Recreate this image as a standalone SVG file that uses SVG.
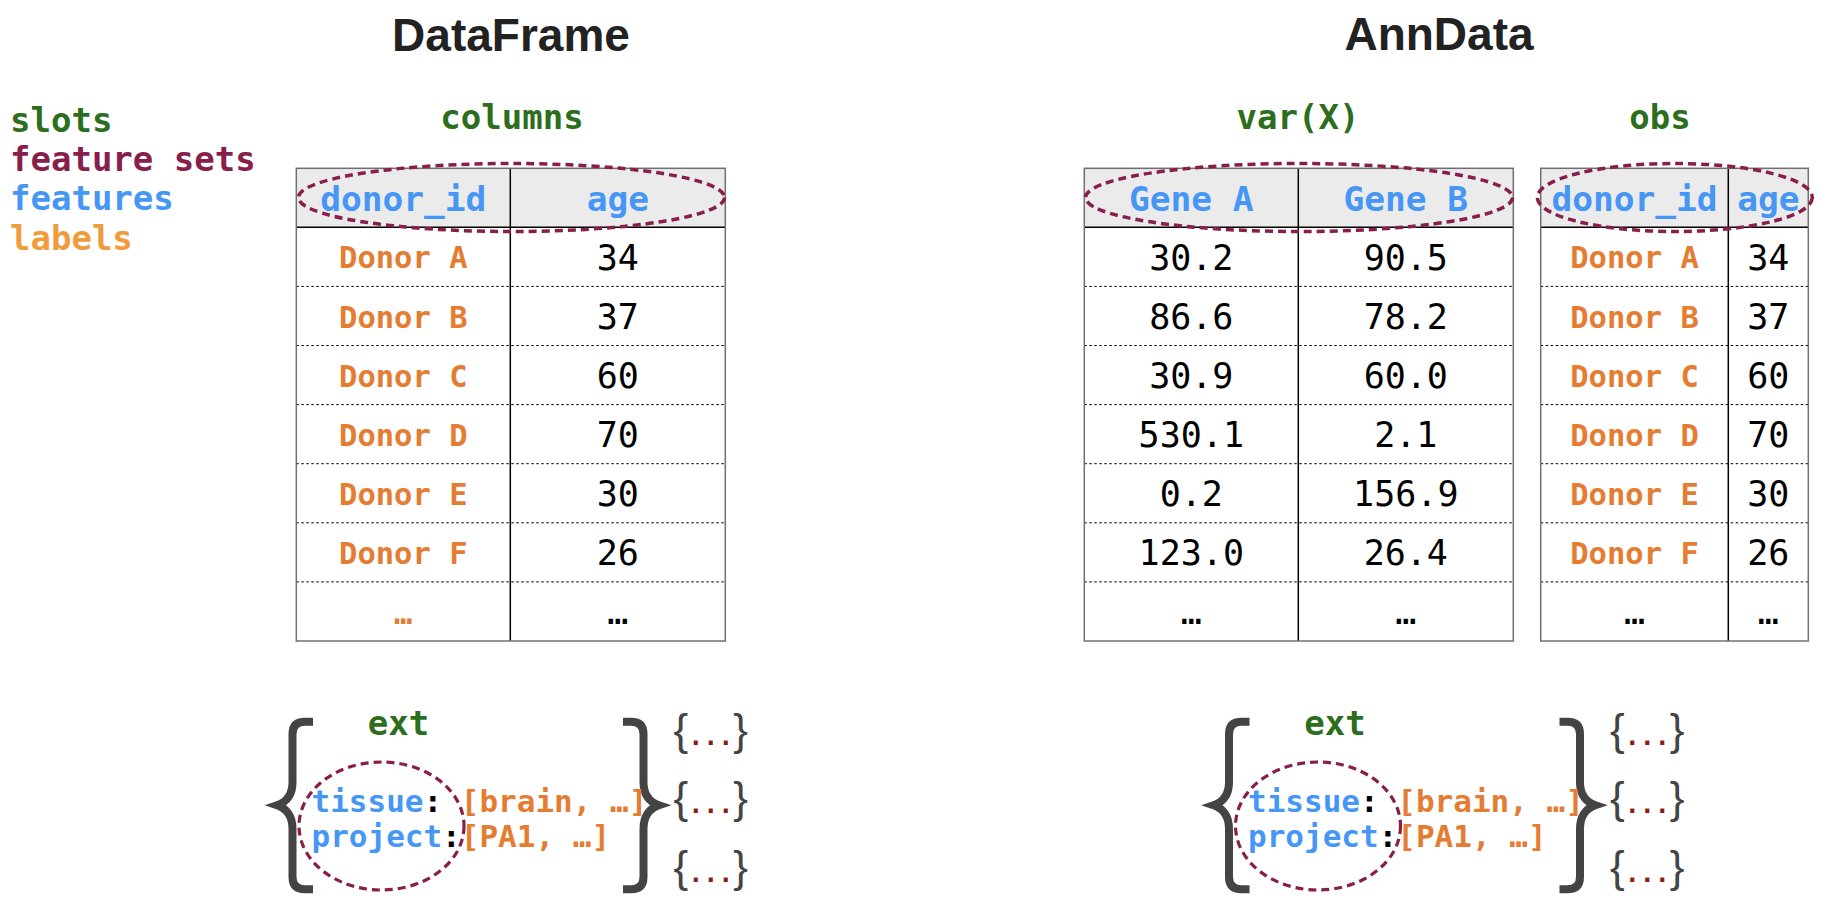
<svg xmlns="http://www.w3.org/2000/svg" width="1826" height="916" viewBox="0 0 1826 916">
<style>
.mono{font-family:"DejaVu Sans Mono","Liberation Mono",monospace}
.b{font-weight:bold}
.title{font-family:"Liberation Sans",Arial,sans-serif;font-weight:bold;font-size:46px;fill:#222;text-anchor:middle}
.slot{font-family:"DejaVu Sans Mono","Liberation Mono",monospace;font-weight:bold;font-size:34px;fill:#2d6e1e}
.fs{fill:#871e4b}
.feat{fill:#4696f5}
.lab{fill:#f09b3c}
.hdr{font-family:"DejaVu Sans Mono","Liberation Mono",monospace;font-weight:bold;font-size:34.5px;fill:#4696f5;text-anchor:middle}
.don{font-family:"DejaVu Sans Mono","Liberation Mono",monospace;font-weight:bold;font-size:30.5px;fill:#e47d32;text-anchor:middle}
.num{font-family:"DejaVu Sans Mono","Liberation Mono",monospace;font-size:35px;fill:#000;text-anchor:middle}
.hfill{fill:#ebebeb;stroke:none}
.border{fill:none;stroke:#707070;stroke-width:1.5}
.solid{stroke:#000;stroke-width:1.5}
.dot{stroke:#000;stroke-width:1;stroke-dasharray:2.5 2.5}
.fset{fill:none;stroke:#871e4b;stroke-width:3.5;stroke-dasharray:8 5}
.brace{fill:none;stroke:#444;stroke-width:8;stroke-linejoin:miter}
.ext{font-family:"DejaVu Sans Mono","Liberation Mono",monospace;font-weight:bold;font-size:31px}
.org{fill:#e47d32}
.blk{fill:#000}
.sb{font-family:"Liberation Sans",Arial,sans-serif;font-size:44px;fill:#444}
.sd{font-family:"DejaVu Sans Mono","Liberation Mono",monospace;font-weight:bold;font-size:25px;fill:#8b1e14}
</style>

<g id="legend">
  <text class="slot" x="10" y="131.5">slots</text>
  <text class="slot fs" x="10" y="170.5">feature sets</text>
  <text class="slot feat" x="10" y="210">features</text>
  <text class="slot lab" x="10" y="249.5">labels</text>
</g>

<g id="title-dataframe">
  <text class="title" x="511" y="51">DataFrame</text>
</g>
<g id="title-anndata">
  <text class="title" x="1439" y="50">AnnData</text>
</g>

<g id="df-table">
  <text class="slot" x="512" y="129" text-anchor="middle">columns</text>
  <rect class="hfill" x="296.3" y="168.3" width="429" height="59"/>
  <line class="dot" x1="296.3" y1="286.4" x2="725.3" y2="286.4"/>
  <line class="dot" x1="296.3" y1="345.5" x2="725.3" y2="345.5"/>
  <line class="dot" x1="296.3" y1="404.6" x2="725.3" y2="404.6"/>
  <line class="dot" x1="296.3" y1="463.7" x2="725.3" y2="463.7"/>
  <line class="dot" x1="296.3" y1="522.8" x2="725.3" y2="522.8"/>
  <line class="dot" x1="296.3" y1="581.9" x2="725.3" y2="581.9"/>
  <line class="solid" x1="296.3" y1="227.3" x2="725.3" y2="227.3"/>
  <line class="solid" x1="510.3" y1="168.3" x2="510.3" y2="641"/>
  <rect class="border" x="296.3" y="168.3" width="429" height="472.7"/>
  <text class="hdr" x="403.3" y="210.5">donor_id</text>
  <text class="hdr" x="617.8" y="210.5">age</text>
  <text class="don" x="403.3" y="268.4">Donor A</text>
  <text class="don" x="403.3" y="327.5">Donor B</text>
  <text class="don" x="403.3" y="386.6">Donor C</text>
  <text class="don" x="403.3" y="445.7">Donor D</text>
  <text class="don" x="403.3" y="504.8">Donor E</text>
  <text class="don" x="403.3" y="563.9">Donor F</text>
  <text class="don" x="403.3" y="623.5">…</text>
  <text class="num" x="617.8" y="269.9">34</text>
  <text class="num" x="617.8" y="329">37</text>
  <text class="num" x="617.8" y="388">60</text>
  <text class="num" x="617.8" y="447">70</text>
  <text class="num" x="617.8" y="506">30</text>
  <text class="num" x="617.8" y="565">26</text>
  <text class="num" x="617.8" y="624">…</text>
  <ellipse class="fset" cx="511.5" cy="197.5" rx="213" ry="34"/>
</g>

<g id="var-table">
  <text class="slot" x="1298" y="129" text-anchor="middle">var(X)</text>
  <rect class="hfill" x="1084.3" y="168.3" width="429" height="59"/>
  <line class="dot" x1="1084.3" y1="286.4" x2="1513.3" y2="286.4"/>
  <line class="dot" x1="1084.3" y1="345.5" x2="1513.3" y2="345.5"/>
  <line class="dot" x1="1084.3" y1="404.6" x2="1513.3" y2="404.6"/>
  <line class="dot" x1="1084.3" y1="463.7" x2="1513.3" y2="463.7"/>
  <line class="dot" x1="1084.3" y1="522.8" x2="1513.3" y2="522.8"/>
  <line class="dot" x1="1084.3" y1="581.9" x2="1513.3" y2="581.9"/>
  <line class="solid" x1="1084.3" y1="227.3" x2="1513.3" y2="227.3"/>
  <line class="solid" x1="1298.3" y1="168.3" x2="1298.3" y2="641"/>
  <rect class="border" x="1084.3" y="168.3" width="429" height="472.7"/>
  <text class="hdr" x="1191.3" y="210.5">Gene A</text>
  <text class="hdr" x="1405.8" y="210.5">Gene B</text>
  <text class="num" x="1191.3" y="269.9">30.2</text>
  <text class="num" x="1191.3" y="329">86.6</text>
  <text class="num" x="1191.3" y="388">30.9</text>
  <text class="num" x="1191.3" y="447">530.1</text>
  <text class="num" x="1191.3" y="506">0.2</text>
  <text class="num" x="1191.3" y="565">123.0</text>
  <text class="num" x="1191.3" y="624">…</text>
  <text class="num" x="1405.8" y="269.9">90.5</text>
  <text class="num" x="1405.8" y="329">78.2</text>
  <text class="num" x="1405.8" y="388">60.0</text>
  <text class="num" x="1405.8" y="447">2.1</text>
  <text class="num" x="1405.8" y="506">156.9</text>
  <text class="num" x="1405.8" y="565">26.4</text>
  <text class="num" x="1405.8" y="624">…</text>
  <ellipse class="fset" cx="1299" cy="197.5" rx="213.5" ry="34"/>
</g>

<g id="obs-table">
  <text class="slot" x="1660" y="129" text-anchor="middle">obs</text>
  <rect class="hfill" x="1540.7" y="168.3" width="267.6" height="59"/>
  <line class="dot" x1="1540.7" y1="286.4" x2="1808.3" y2="286.4"/>
  <line class="dot" x1="1540.7" y1="345.5" x2="1808.3" y2="345.5"/>
  <line class="dot" x1="1540.7" y1="404.6" x2="1808.3" y2="404.6"/>
  <line class="dot" x1="1540.7" y1="463.7" x2="1808.3" y2="463.7"/>
  <line class="dot" x1="1540.7" y1="522.8" x2="1808.3" y2="522.8"/>
  <line class="dot" x1="1540.7" y1="581.9" x2="1808.3" y2="581.9"/>
  <line class="solid" x1="1540.7" y1="227.3" x2="1808.3" y2="227.3"/>
  <line class="solid" x1="1728.3" y1="168.3" x2="1728.3" y2="641"/>
  <rect class="border" x="1540.7" y="168.3" width="267.6" height="472.7"/>
  <text class="hdr" x="1634.5" y="210.5">donor_id</text>
  <text class="hdr" x="1768.3" y="210.5">age</text>
  <text class="don" x="1634.5" y="268.4">Donor A</text>
  <text class="don" x="1634.5" y="327.5">Donor B</text>
  <text class="don" x="1634.5" y="386.6">Donor C</text>
  <text class="don" x="1634.5" y="445.7">Donor D</text>
  <text class="don" x="1634.5" y="504.8">Donor E</text>
  <text class="don" x="1634.5" y="563.9">Donor F</text>
  <text class="num" x="1634.5" y="624">…</text>
  <text class="num" x="1768.3" y="269.9">34</text>
  <text class="num" x="1768.3" y="329">37</text>
  <text class="num" x="1768.3" y="388">60</text>
  <text class="num" x="1768.3" y="447">70</text>
  <text class="num" x="1768.3" y="506">30</text>
  <text class="num" x="1768.3" y="565">26</text>
  <text class="num" x="1768.3" y="624">…</text>
  <ellipse class="fset" cx="1674.8" cy="197.5" rx="137.5" ry="34"/>
</g>

<g id="df-ext">
  <path class="brace" d="M313 721.7 L305 721.7 Q292.5 721.7 292.5 734 L292.5 782 Q292.5 800 277 805.3 Q292.5 810.6 292.5 829 L292.5 877 Q292.5 889.3 305 889.3 L313 889.3"/>
  <path class="brace" d="M623 721.7 L631 721.7 Q643.5 721.7 643.5 734 L643.5 782 Q643.5 800 659 805.3 Q643.5 810.6 643.5 829 L643.5 877 Q643.5 889.3 631 889.3 L623 889.3"/>
  <text class="slot" x="398.5" y="735" text-anchor="middle">ext</text>
  <ellipse class="fset" cx="381.5" cy="826" rx="82.5" ry="64" style="stroke-width:3.2"/>
  <text class="ext"><tspan class="feat" x="311.5" y="811.7">tissue</tspan><tspan class="blk" x="423.5" y="811.7">:</tspan><tspan class="org" x="460.8" y="811.7">[brain, …]</tspan></text>
  <text class="ext"><tspan class="feat" x="311.5" y="846.7">project</tspan><tspan class="blk" x="442.1" y="846.7">:</tspan><tspan class="org" x="460.8" y="846.7">[PA1, …]</tspan></text>
  <text x="673.5" y="745"><tspan class="sb">{</tspan><tspan class="sd">...</tspan><tspan class="sb">}</tspan></text>
  <text x="673.5" y="813"><tspan class="sb">{</tspan><tspan class="sd">...</tspan><tspan class="sb">}</tspan></text>
  <text x="673.5" y="881.5"><tspan class="sb">{</tspan><tspan class="sd">...</tspan><tspan class="sb">}</tspan></text>
</g>

<g id="ad-ext" transform="translate(936.5 0)">
  <path class="brace" d="M313 721.7 L305 721.7 Q292.5 721.7 292.5 734 L292.5 782 Q292.5 800 277 805.3 Q292.5 810.6 292.5 829 L292.5 877 Q292.5 889.3 305 889.3 L313 889.3"/>
  <path class="brace" d="M623 721.7 L631 721.7 Q643.5 721.7 643.5 734 L643.5 782 Q643.5 800 659 805.3 Q643.5 810.6 643.5 829 L643.5 877 Q643.5 889.3 631 889.3 L623 889.3"/>
  <text class="slot" x="398.5" y="735" text-anchor="middle">ext</text>
  <ellipse class="fset" cx="381.5" cy="826" rx="82.5" ry="64" style="stroke-width:3.2"/>
  <text class="ext"><tspan class="feat" x="311.5" y="811.7">tissue</tspan><tspan class="blk" x="423.5" y="811.7">:</tspan><tspan class="org" x="460.8" y="811.7">[brain, …]</tspan></text>
  <text class="ext"><tspan class="feat" x="311.5" y="846.7">project</tspan><tspan class="blk" x="442.1" y="846.7">:</tspan><tspan class="org" x="460.8" y="846.7">[PA1, …]</tspan></text>
  <text x="673.5" y="745"><tspan class="sb">{</tspan><tspan class="sd">...</tspan><tspan class="sb">}</tspan></text>
  <text x="673.5" y="813"><tspan class="sb">{</tspan><tspan class="sd">...</tspan><tspan class="sb">}</tspan></text>
  <text x="673.5" y="881.5"><tspan class="sb">{</tspan><tspan class="sd">...</tspan><tspan class="sb">}</tspan></text>
</g>

<g id="connectors"/>
</svg>
